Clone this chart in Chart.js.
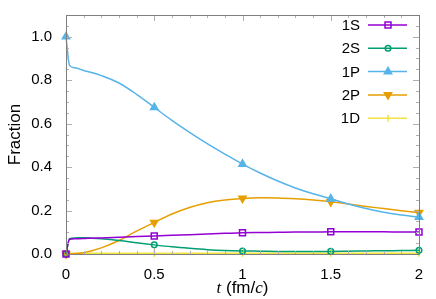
<!DOCTYPE html>
<html>
<head>
<meta charset="utf-8">
<script src="https://cdn.jsdelivr.net/npm/chart.js@4"></script>
<style>
  html, body { margin: 0; padding: 0; background: #fff; }
  #wrap { width: 436px; height: 299px; position: relative; }
</style>
</head>
<body>
<div id="wrap"><canvas id="fracChart" width="436" height="299"></canvas></div>
<script>
// time grid (fm/c) and fractions
const times = [0, 0.02, 0.05, 0.1, 0.15, 0.2, 0.3, 0.4, 0.5, 0.6, 0.7, 0.8, 0.9, 1.0,
               1.1, 1.2, 1.3, 1.4, 1.5, 1.6, 1.7, 1.8, 1.9, 2.0];
const frac1S = [0, 0.068, 0.070, 0.071, 0.073, 0.074, 0.077, 0.080, 0.083, 0.086, 0.089, 0.092, 0.095, 0.098,
                0.099, 0.100, 0.101, 0.101, 0.102, 0.102, 0.102, 0.102, 0.101, 0.101];
const frac2S = [0, 0.070, 0.074, 0.075, 0.073, 0.070, 0.062, 0.052, 0.042, 0.033, 0.026, 0.020, 0.016, 0.014,
                0.013, 0.012, 0.012, 0.012, 0.012, 0.013, 0.014, 0.015, 0.016, 0.017];
const frac1P = [1.0, 0.868, 0.857, 0.845, 0.834, 0.821, 0.787, 0.735, 0.675, 0.615, 0.560, 0.508, 0.460, 0.414,
                0.373, 0.336, 0.304, 0.277, 0.254, 0.230, 0.209, 0.192, 0.179, 0.170];
const frac2P = [0, 0.0005, 0.002, 0.006, 0.016, 0.028, 0.062, 0.105, 0.145, 0.184, 0.214, 0.236, 0.249, 0.256,
                0.259, 0.258, 0.254, 0.248, 0.240, 0.230, 0.219, 0.209, 0.199, 0.190];
const frac1D = [0, 0.002, 0.003, 0.003, 0.003, 0.003, 0.003, 0.003, 0.003, 0.003, 0.003, 0.003, 0.003, 0.003,
                0.003, 0.003, 0.003, 0.003, 0.003, 0.003, 0.003, 0.003, 0.003, 0.003];
const markerTimes = [0, 0.5, 1.0, 1.5, 2.0];
const xTicks = [0, 0.5, 1, 1.5, 2];
const yTicks = [0, 0.2, 0.4, 0.6, 0.8, 1.0];

// series styling
const series = [
  { label: "1S", data: frac1S, color: "#9400d3", style: "rect", rot: 0, r: 4.2, filled: false },
  { label: "2S", data: frac2S, color: "#009e73", style: "circle", rot: 0, r: 2.8, filled: false },
  { label: "1P", data: frac1P, color: "#56b4e9", style: "triangle", rot: 0, r: 4.2, filled: true },
  { label: "2P", data: frac2P, color: "#e69f00", style: "triangle", rot: 180, r: 4.2, filled: true },
  { label: "1D", data: frac1D, color: "#f0e442", style: "line", rot: 90, r: 3.5, filled: false }
];

const FONT = "'Liberation Sans', Arial, sans-serif";

const datasets = series.map(s => ({
  label: s.label,
  data: times.map((t, i) => ({ x: t, y: s.data[i] })),
  borderColor: s.color,
  backgroundColor: s.filled ? s.color : "rgba(0,0,0,0)",
  borderWidth: 1.5,
  pointBorderWidth: 1.5,
  cubicInterpolationMode: "monotone",
  pointStyle: s.style,
  pointRotation: s.rot,
  pointRadius: ctx => markerTimes.includes(ctx.raw.x) ? s.r : 0,
  pointHoverRadius: 0,
  clip: false
}));

// frame, inward ticks, axis titles and gnuplot-like legend
const decorations = {
  id: "decorations",
  afterDatasetsDraw(chart) {
    const { ctx, chartArea: a, scales } = chart;
    ctx.save();
    // minor and major ticks on all sides
    ctx.strokeStyle = "#b0b0b0";
    ctx.lineWidth = 1;
    for (let i = 0; i <= 20; i++) {
      const v = i / 10;
      const x = Math.round(scales.x.getPixelForValue(v)) + 0.5;
      const len = (i % 5 === 0) ? 6 : 3;
      ctx.beginPath();
      ctx.moveTo(x, a.bottom); ctx.lineTo(x, a.bottom - len);
      ctx.moveTo(x, a.top); ctx.lineTo(x, a.top + len);
      ctx.stroke();
    }
    for (let i = 0; i <= 22; i++) {
      const v = i * 0.05;
      const y = Math.round(scales.y.getPixelForValue(v)) + 0.5;
      const len = (i % 4 === 0) ? 6 : 3;
      ctx.beginPath();
      ctx.moveTo(a.left, y); ctx.lineTo(a.left + len, y);
      ctx.moveTo(a.right, y); ctx.lineTo(a.right - len, y);
      ctx.stroke();
    }
    // frame
    ctx.strokeStyle = "#808080";
    ctx.strokeRect(Math.round(a.left) + 0.5, Math.round(a.top) + 0.5,
                   Math.round(a.right - a.left), Math.round(a.bottom - a.top));

    // y title
    ctx.fillStyle = "#000";
    ctx.font = "17px " + FONT;
    ctx.textAlign = "center";
    ctx.textBaseline = "middle";
    ctx.save();
    ctx.translate(15, (a.top + a.bottom) / 2);
    ctx.rotate(-Math.PI / 2);
    ctx.fillText("Fraction", 0, 0);
    ctx.restore();

    // x title: t (fm/c) with italic t and c
    const parts = [
      { s: "t", f: "italic 17px 'Liberation Serif', serif" },
      { s: " (fm/", f: "17px " + FONT },
      { s: "c", f: "italic 17px 'Liberation Serif', serif" },
      { s: ")", f: "17px " + FONT }
    ];
    let w = 0;
    parts.forEach(p => { ctx.font = p.f; w += ctx.measureText(p.s).width; });
    let x0 = (a.left + a.right) / 2 - w / 2;
    ctx.textAlign = "left";
    ctx.textBaseline = "alphabetic";
    parts.forEach(p => { ctx.font = p.f; ctx.fillText(p.s, x0, 293); x0 += ctx.measureText(p.s).width; });

    // legend
    ctx.font = "15px " + FONT;
    ctx.textAlign = "right";
    ctx.textBaseline = "middle";
    series.forEach((s, i) => {
      const y = 25 + i * 23.3;
      ctx.fillStyle = "#000";
      ctx.fillText(s.label, 360, y + 1);
      ctx.strokeStyle = s.color;
      ctx.lineWidth = 1.5;
      ctx.beginPath();
      ctx.moveTo(368, y); ctx.lineTo(407, y);
      ctx.stroke();
      ctx.fillStyle = s.filled ? s.color : "rgba(0,0,0,0)";
      Chart.helpers.drawPoint(ctx, { pointStyle: s.style, rotation: s.rot, radius: s.r, borderWidth: 1.5 }, 388, y);
    });
    ctx.restore();
  }
};

new Chart(document.getElementById("fracChart").getContext("2d"), {
  type: "line",
  data: { datasets: datasets },
  options: {
    responsive: false,
    animation: false,
    layout: { padding: { left: 0, right: 17, top: 12, bottom: 0 } },
    plugins: { legend: { display: false }, tooltip: { enabled: false } },
    scales: {
      x: {
        type: "linear",
        min: 0, max: 2,
        afterFit: s => { s.height = 45; },
        afterBuildTicks: s => { s.ticks = xTicks.map(v => ({ value: v })); },
        grid: { display: false },
        border: { display: false },
        ticks: {
          padding: 4,
          color: "#000",
          font: { family: FONT, size: 15 },
          maxRotation: 0,
          callback: v => String(v)
        }
      },
      y: {
        min: 0, max: 1.1,
        afterFit: s => { s.width = 66; },
        afterBuildTicks: s => { s.ticks = yTicks.map(v => ({ value: v })); },
        grid: { display: false },
        border: { display: false },
        ticks: {
          padding: 6,
          color: "#000",
          font: { family: FONT, size: 15 },
          callback: v => v.toFixed(1)
        }
      }
    }
  },
  plugins: [decorations]
});
</script>
</body>
</html>
